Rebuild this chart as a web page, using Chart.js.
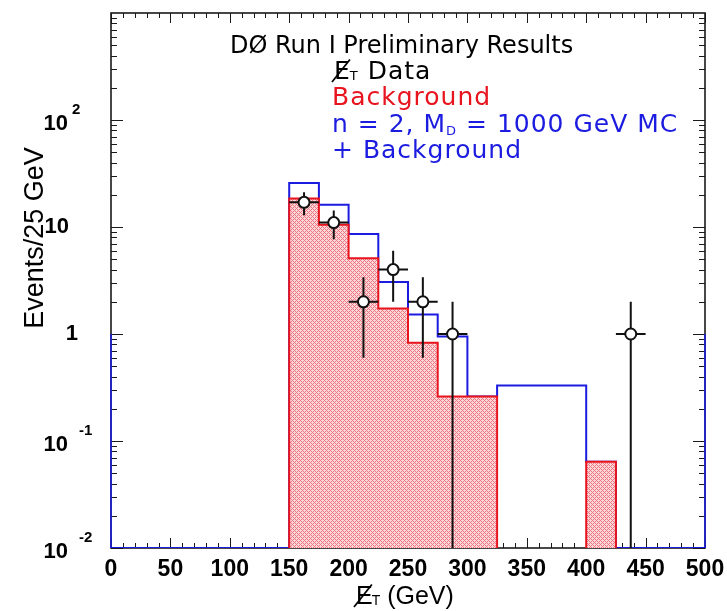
<!DOCTYPE html>
<html>
<head>
<meta charset="utf-8">
<script src="https://cdn.jsdelivr.net/npm/chart.js@4.4.1/dist/chart.umd.min.js"></script>
<style>
  html, body { margin: 0; padding: 0; background: #ffffff; }
  #wrap { width: 727px; height: 611px; }
</style>
</head>
<body>
<div id="wrap"><canvas id="c" width="727" height="611"></canvas></div>
<script>
// Missing-ET spectrum, 25 GeV bins from 0 to 500 GeV
const binEdges = [0, 25, 50, 75, 100, 125, 150, 175, 200, 225, 250, 275, 300, 325, 350, 375, 400, 425, 450, 475, 500];

// Expected background (events / 25 GeV)
const backgroundCounts = [0, 0, 0, 0, 0, 0, 18.5, 10.5, 5.1, 1.73, 0.83, 0.26, 0.26, 0, 0, 0, 0.064, 0, 0, 0];

// n = 2, M_D = 1000 GeV signal MC + background
const signalPlusBackground = [0, 0, 0, 0, 0, 0, 25.8, 16.1, 8.6, 3.07, 1.52, 0.95, 0.26, 0.33, 0.33, 0.33, 0.064, 0, 0, 0];

// Observed events
const dataCenters = [162.5, 187.5, 212.5, 237.5, 262.5, 287.5, 437.5];
const dataCounts  = [17, 11, 2, 4, 2, 1, 1];
const dataErrLow  = [4.1, 3.3, 1.4, 2, 1.4, 1, 1];
const dataErrHigh = [4.1, 3.3, 1.4, 2, 1.4, 1, 1];
const dataBinHalfWidth = 12.5;

// Axis labels
const xTickValues = [0, 50, 100, 150, 200, 250, 300, 350, 400, 450, 500];
const yDecades = [0.01, 0.1, 1, 10, 100];
const yTickLabels = [['10', '-2'], ['10', '-1'], ['1', ''], ['10', ''], ['10', '2']];

const X_MIN = 0, X_MAX = 500;
const Y_MIN = 0.01, Y_MAX = 1000;

const RED = '#e8141e';
const BLUE = '#1c1ce0';

// Outline of a histogram as a polyline through bin corners; empty bins sit on the axis floor
function histogramOutline(values) {
  const pts = [{ x: binEdges[0], y: Y_MIN }];
  values.forEach((v, i) => {
    const y = v > 0 ? v : Y_MIN;
    pts.push({ x: binEdges[i], y }, { x: binEdges[i + 1], y });
  });
  pts.push({ x: binEdges[binEdges.length - 1], y: Y_MIN });
  return pts;
}

const canvas = document.getElementById('c');
const mainCtx = canvas.getContext('2d');

// Fine red cross-hatch used for the background fill
function crossHatch() {
  const tile = document.createElement('canvas');
  tile.width = 4; tile.height = 4;
  const g = tile.getContext('2d');
  g.fillStyle = '#fbd8da';
  g.fillRect(0, 0, 4, 4);
  g.fillStyle = '#ec7480';
  for (let i = 0; i < 4; i++) {
    for (let j = 0; j < 4; j++) {
      if ((i + j) % 4 === 0 || (i - j + 4) % 4 === 0) g.fillRect(i, j, 1, 1);
    }
  }
  return mainCtx.createPattern(tile, 'repeat');
}

// E with a slash through it and a subscript T
function drawMissingET(ctx, x, baseline, size, subSize, color) {
  ctx.save();
  ctx.fillStyle = color;
  ctx.strokeStyle = color;
  ctx.textAlign = 'left';
  ctx.textBaseline = 'alphabetic';
  ctx.fillText('E', x, baseline);
  const w = ctx.measureText('E').width;
  ctx.lineWidth = Math.max(1.2, size / 14);
  ctx.beginPath();
  ctx.moveTo(x - size * 0.08, baseline + size * 0.12);
  ctx.lineTo(x + w * 0.95, baseline - size * 0.78);
  ctx.stroke();
  const font = ctx.font;
  ctx.font = font.replace(/\d+px/, subSize + 'px');
  ctx.fillText('T', x + w - 1, baseline + subSize * 0.1);
  const tw = ctx.measureText('T').width;
  ctx.font = font;
  ctx.restore();
  return x + w - 1 + tw;
}

const decorations = {
  id: 'decorations',
  beforeDatasetsDraw(chart) {
    const { ctx, chartArea: a, scales: { x, y } } = chart;
    ctx.save();
    ctx.strokeStyle = '#1a1a1a';
    ctx.lineWidth = 1;
    const seg = (x0, y0, x1, y1) => { ctx.beginPath(); ctx.moveTo(x0, y0); ctx.lineTo(x1, y1); ctx.stroke(); };

    // x ticks on bottom and top edges, pointing inward
    for (let v = X_MIN; v <= X_MAX; v += 10) {
      const px = Math.round(x.getPixelForValue(v)) + 0.5;
      const len = v % 50 === 0 ? 10 : 5;
      seg(px, a.bottom, px, a.bottom - len);
      seg(px, a.top, px, a.top + len);
    }
    // log y ticks on left and right edges, pointing inward
    for (let d = -2; d <= 2; d++) {
      for (let m = 1; m <= 9; m++) {
        const v = m * Math.pow(10, d);
        const py = Math.round(y.getPixelForValue(v)) + 0.5;
        const len = m === 1 ? 12 : 6;
        seg(a.left, py, a.left + len, py);
        seg(a.right, py, a.right - len, py);
      }
    }

    // frame
    ctx.lineWidth = 1.6;
    ctx.strokeRect(a.left, a.top, a.right - a.left, a.bottom - a.top);

    // lower part of the side edges carries the signal histogram colour
    ctx.strokeStyle = BLUE;
    ctx.lineWidth = 1.6;
    const yOne = y.getPixelForValue(1);
    seg(a.left, a.bottom, a.left, yOne);
    seg(a.right, a.bottom, a.right, yOne);
    ctx.restore();
  },
  beforeDatasetDraw(chart, args) {
    if (args.index !== 0) return;
    const { ctx, scales: { x, y } } = chart;
    ctx.save();
    ctx.strokeStyle = '#111111';
    ctx.lineWidth = 2;
    dataCenters.forEach((c, i) => {
      const px = x.getPixelForValue(c);
      const py = y.getPixelForValue(dataCounts[i]);
      const lo = y.getPixelForValue(dataCounts[i] - dataErrLow[i]);
      const hi = y.getPixelForValue(dataCounts[i] + dataErrHigh[i]);
      ctx.beginPath();
      ctx.moveTo(px, lo); ctx.lineTo(px, hi);
      ctx.moveTo(x.getPixelForValue(c - dataBinHalfWidth), py);
      ctx.lineTo(x.getPixelForValue(c + dataBinHalfWidth), py);
      ctx.stroke();
    });
    ctx.restore();
  },
  afterDraw(chart) {
    const { ctx, scales: { x, y } } = chart;
    ctx.save();

    // x tick labels
    ctx.fillStyle = '#000000';
    ctx.font = 'bold 23px "Liberation Sans", Arial, sans-serif';
    ctx.textAlign = 'center';
    ctx.textBaseline = 'alphabetic';
    xTickValues.forEach(v => ctx.fillText(String(v), x.getPixelForValue(v), 576));

    // y tick labels with exponents
    yDecades.forEach((v, i) => {
      const py = y.getPixelForValue(v);
      const [base, exp] = yTickLabels[i];
      ctx.font = 'bold 22px "Liberation Sans", Arial, sans-serif';
      ctx.textBaseline = 'middle';
      ctx.textAlign = 'right';
      if (exp) {
        ctx.fillText(base, 68, py + 4);
        ctx.font = 'bold 15px "Liberation Sans", Arial, sans-serif';
        ctx.textAlign = 'left';
        ctx.fillText(exp, exp.startsWith('-') ? 79 : 72, py - 10);
      } else if (base === '1') {
        ctx.fillText(base, 78, py);
      } else {
        ctx.fillText(base, 69, py);
      }
    });

    // y axis title
    ctx.save();
    ctx.translate(36, 238);
    ctx.rotate(-Math.PI / 2);
    ctx.font = '27px "Liberation Sans", Arial, sans-serif';
    ctx.textAlign = 'center';
    ctx.textBaseline = 'middle';
    ctx.fillText('Events/25 GeV', 0, 0);
    ctx.restore();

    // x axis title
    ctx.font = '25px "Liberation Sans", Arial, sans-serif';
    let ex = drawMissingET(ctx, 356, 604, 25, 14, '#000000');
    ctx.textAlign = 'left';
    ctx.textBaseline = 'alphabetic';
    ctx.fillText(' (GeV)', ex, 604);

    // header
    ctx.font = '24px "DejaVu Sans", sans-serif';
    ctx.fillStyle = '#000000';
    ctx.fillText('D\u00d8 Run I Preliminary Results', 230, 53);

    // legend text
    const legendFont = '25px "DejaVu Sans", sans-serif';
    ctx.font = legendFont;
    ctx.letterSpacing = '1px';
    ex = drawMissingET(ctx, 334, 79, 25, 13, '#000000');
    ctx.fillStyle = '#000000';
    ctx.fillText(' Data', ex, 79);

    ctx.fillStyle = RED;
    ctx.fillText('Background', 332, 105);

    ctx.fillStyle = BLUE;
    const line3a = 'n = 2, M';
    ctx.fillText(line3a, 332, 132);
    let lx = 332 + ctx.measureText(line3a).width;
    ctx.font = '13px "DejaVu Sans", sans-serif';
    ctx.fillText('D', lx, 135);
    lx += ctx.measureText('D').width;
    ctx.font = legendFont;
    ctx.fillText(' = 1000 GeV MC', lx, 132);
    ctx.fillText('+ Background', 332, 158);

    ctx.restore();
  }
};

const bgOutline = histogramOutline(backgroundCounts);
const sigOutline = histogramOutline(signalPlusBackground);
const onFloor = p => p.parsed.y <= Y_MIN;

new Chart(canvas, {
  type: 'line',
  data: {
    datasets: [
      {
        label: 'Data',
        data: dataCenters.map((c, i) => ({ x: c, y: dataCounts[i] })),
        showLine: false,
        pointStyle: 'circle',
        pointRadius: 5.5,
        pointBorderWidth: 2,
        pointBackgroundColor: '#ffffff',
        pointBorderColor: '#111111',
        order: 0
      },
      {
        label: 'Background',
        data: bgOutline,
        borderColor: RED,
        borderWidth: 2,
        backgroundColor: crossHatch(),
        fill: 'start',
        pointRadius: 0,
        tension: 0,
        segment: {
          borderColor: ctx => (onFloor(ctx.p0) && onFloor(ctx.p1)) ? 'rgba(0,0,0,0)' : RED
        },
        order: 1
      },
      {
        label: 'n = 2, M_D = 1000 GeV MC + Background',
        data: sigOutline,
        borderColor: BLUE,
        borderWidth: 2,
        fill: false,
        pointRadius: 0,
        tension: 0,
        order: 2
      }
    ]
  },
  options: {
    responsive: false,
    animation: false,
    devicePixelRatio: 1,
    layout: { padding: { left: 111, right: 22, top: 13, bottom: 63 } },
    plugins: { legend: { display: false }, tooltip: { enabled: false } },
    scales: {
      x: { type: 'linear', min: X_MIN, max: X_MAX, display: false },
      y: { type: 'logarithmic', min: Y_MIN, max: Y_MAX, display: false }
    }
  },
  plugins: [decorations]
});
</script>
</body>
</html>
